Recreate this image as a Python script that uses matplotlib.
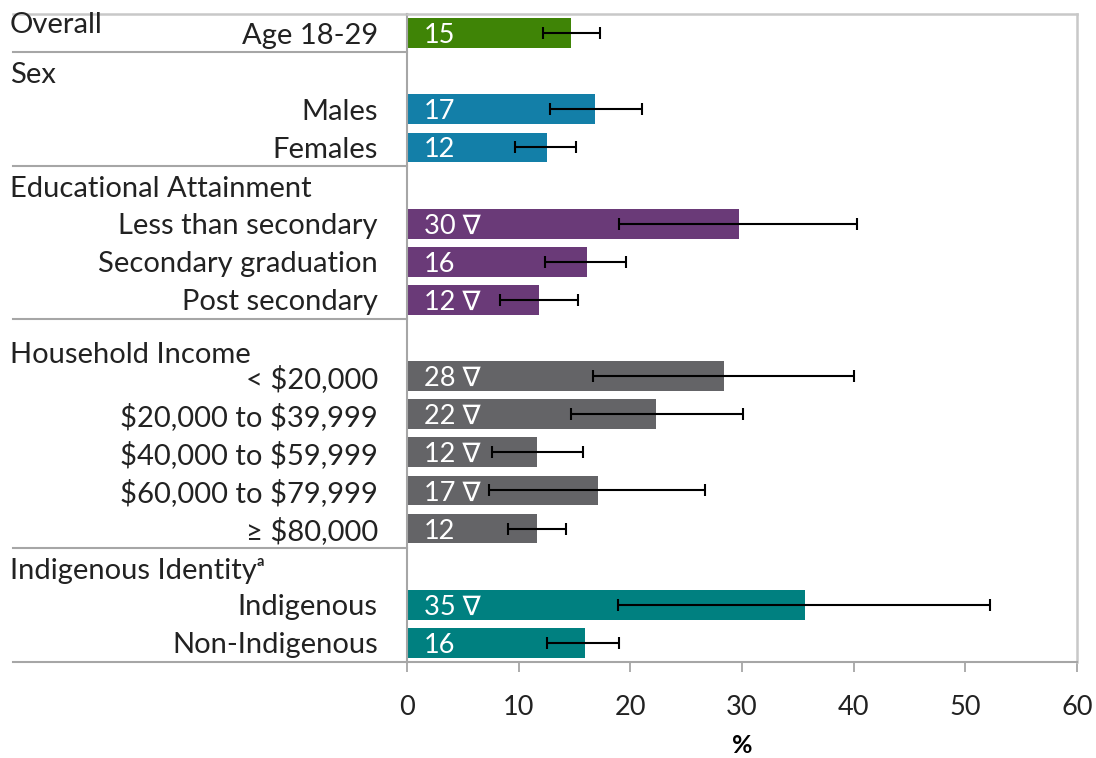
import matplotlib
matplotlib.use("Agg")
import matplotlib.pyplot as plt
import matplotlib.transforms as mtransforms

plt.rcParams['font.family'] = ['Lato', 'DejaVu Sans']
plt.rcParams['text.parse_math'] = False

# ---- data ----
categories = ["Age 18-29", "Males", "Females", "Less than secondary", "Secondary graduation",
              "Post secondary", "< $20,000", "$20,000 to $39,999", "$40,000 to $59,999",
              "$60,000 to $79,999", "≥ $80,000", "Indigenous", "Non-Indigenous"]
rows = [0, 2, 3, 5, 6, 7, 9, 10, 11, 12, 13, 15, 16]
values = [14.7, 16.8, 12.5, 29.7, 16.1, 11.8, 28.4, 22.3, 11.6, 17.1, 11.6, 35.6, 15.9]
ci_low = [12.2, 12.8, 9.7, 19.0, 12.4, 8.3, 16.7, 14.7, 7.6, 7.3, 9.0, 18.9, 12.5]
ci_high = [17.3, 21.0, 15.1, 40.3, 19.6, 15.3, 40.0, 30.1, 15.8, 26.7, 14.2, 52.2, 19.0]
value_labels = ["15", "17", "12", "30 ∇", "16", "12 ∇", "28 ∇", "22 ∇", "12 ∇", "17 ∇", "12",
                "35 ∇", "16"]
groups = ["Overall", "Sex", "Sex", "Edu", "Edu", "Edu", "Inc", "Inc", "Inc", "Inc", "Inc",
          "Ind", "Ind"]
group_colors = {"Overall": "#3F8406", "Sex": "#137FA8", "Edu": "#6A3A78",
                "Inc": "#646467", "Ind": "#008080"}
headers = ["Overall", "Sex", "Educational Attainment", "Household Income", "Indigenous Identityᵃ"]
header_rows = [-0.2, 1.1, 4.1, 8.45, 14.1]
separators = [0.5, 3.5, 7.5, 13.5, 16.5]
xticks = [0, 10, 20, 30, 40, 50, 60]

fig = plt.figure(figsize=(10.96, 7.58), dpi=100)
ax = fig.add_axes([407/1096, 1-662/758, 670/1096, (662-14)/758])

colors = [group_colors[g] for g in groups]
errl = [v - l for v, l in zip(values, ci_low)]
errh = [h - v for v, h in zip(values, ci_high)]
ax.barh(rows, values, height=0.78, color=colors, zorder=2)
ax.errorbar(values, rows, xerr=[errl, errh], fmt='none', ecolor='black', elinewidth=1.5,
            capsize=4.3, capthick=1.5, zorder=3)

for r, lab in zip(rows, value_labels):
    ax.annotate(lab, (0, r), xytext=(12, 0), textcoords='offset points', color='white',
                fontsize=19.5, va='center_baseline', ha='left', zorder=4)

ax.set_xlim(0, 60)
ax.set_ylim(16.5, -0.5)
ax.set_xticks(xticks)
ax.set_xticklabels([str(t) for t in xticks], fontsize=19.5, color='#222222')
ax.tick_params(axis='x', length=7, width=1.3, color='#A6A6A6', pad=17)
ax.set_yticks(rows)
ax.set_yticklabels(categories, fontsize=21, color='#222222')
ax.tick_params(axis='y', length=0, pad=21)
ax.set_xlabel('%', fontsize=18, fontweight='bold', labelpad=10)

for s in ['left', 'bottom']:
    ax.spines[s].set_color('#A6A6A6')
    ax.spines[s].set_linewidth(1.5)
for s in ['top', 'right']:
    ax.spines[s].set_color('#C8C8C8')
    ax.spines[s].set_linewidth(1.8)

trans = mtransforms.blended_transform_factory(ax.transAxes, ax.transData)
x_left = (13 - 407) / 670
for y in separators:
    ax.plot([x_left, 0], [y, y], transform=trans, color='#A6A6A6', lw=1.5, clip_on=False)
ax.plot([x_left, 0], [-0.5, -0.5], transform=trans, color='#C8C8C8', lw=1.8, clip_on=False)

x_head = (10 - 407) / 670
for h, y in zip(headers, header_rows):
    ax.text(x_head, y, h, transform=trans, fontsize=21, ha='left', va='center', color='#222222')

fig.savefig('out.png', dpi=100)
